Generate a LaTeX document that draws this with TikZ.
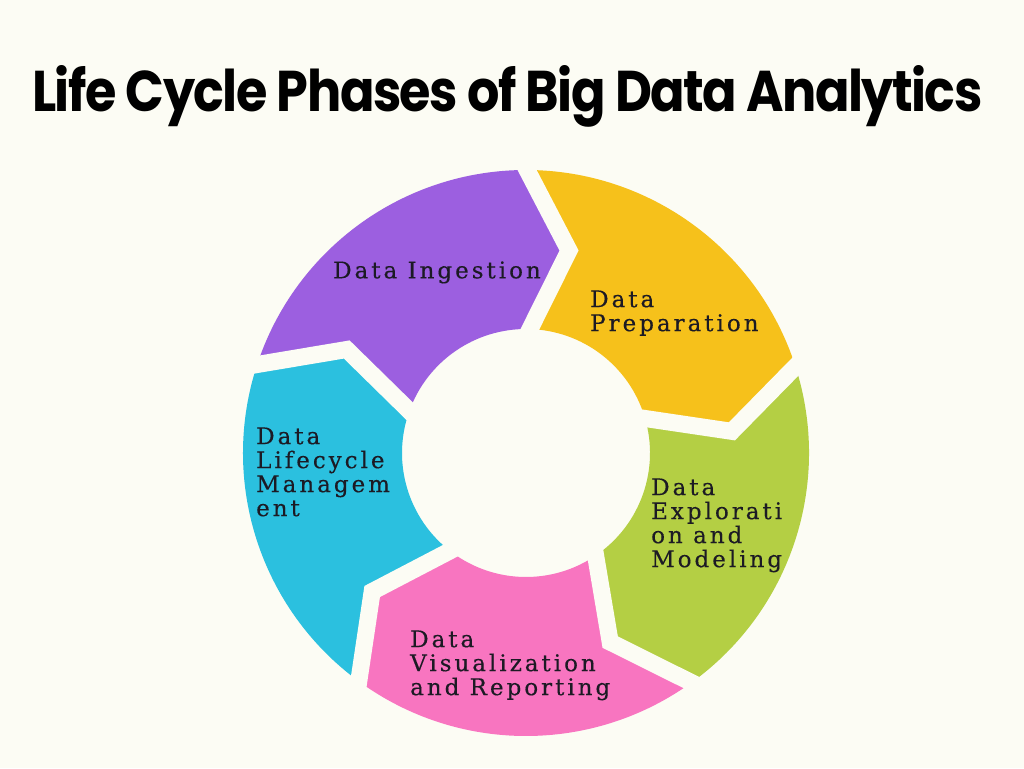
\documentclass[tikz,border=0pt]{standalone}
\usepackage{fontspec}
\newfontfamily\titlefont{Poppins}[LetterSpace=-3]
\newfontfamily\labelfont{DejaVu Serif}[LetterSpace=13,FakeBold=0.3]
\definecolor{bg}{HTML}{FCFCF4}
\definecolor{cpurple}{HTML}{9C5FE0}
\definecolor{cyellow}{HTML}{F6C11B}
\definecolor{cgreen}{HTML}{B4CF44}
\definecolor{cpink}{HTML}{F875C0}
\definecolor{ccyan}{HTML}{2BC0DF}
\definecolor{ink}{HTML}{1C1A24}
\tikzset{
  gap/.style={draw=bg, line width=17pt, line join=miter},
  lbl/.style={anchor=north west, inner sep=0pt, align=left, text=ink,
    font={\labelfont\fontsize{23}{24}\selectfont}}
}
\begin{document}
\begin{tikzpicture}[x=1pt,y=1pt]
\fill[bg] (0,0) rectangle (1024,768);
\useasboundingbox (0,0) rectangle (1024,768);
\node[anchor=base west, inner sep=0pt] (title) at (32,656)
  {\resizebox{950pt}{46pt}{\titlefont\bfseries Life Cycle Phases of Big Data Analytics}};
\begin{scope}[shift={(526,315)}]
\def\Ro{283}\def\Ri{124}\def\Rm{207}\def\tp{13}
\foreach \b/\col in {163/cpurple, 91/cyellow, 19/cgreen, -53/cpink, -125/ccyan}{
  \pgfmathsetmacro\e{\b-72}
  \fill[\col] (\b:\Ro) arc[start angle=\b, end angle=\e, radius=\Ro]
     -- (\e-\tp:\Rm) -- (\e:\Ri) arc[start angle=\e, end angle=\b, radius=\Ri]
     -- (\b-\tp:\Rm) -- cycle;
}
\foreach \b in {91,19,-53,-125,-197}
  \draw[gap] (\b:\Ro+12) -- (\b-\tp:\Rm) -- (\b:\Ri-12);
\end{scope}
\node[lbl] (ingest) at (333,506.8) {Data Ingestion};
\node[lbl] (prep) at (590,477.8) {Data\\Preparation};
\node[lbl] (explo) at (651,289.8) {Data\\Explorati\\on and\\Modeling};
\node[lbl] (visual) at (410,137.8) {Data\\Visualization\\and Reporting};
\node[lbl] (life) at (256,340.8) {Data\\Lifecycle\\Managem\\ent};
\end{tikzpicture}
\end{document}
